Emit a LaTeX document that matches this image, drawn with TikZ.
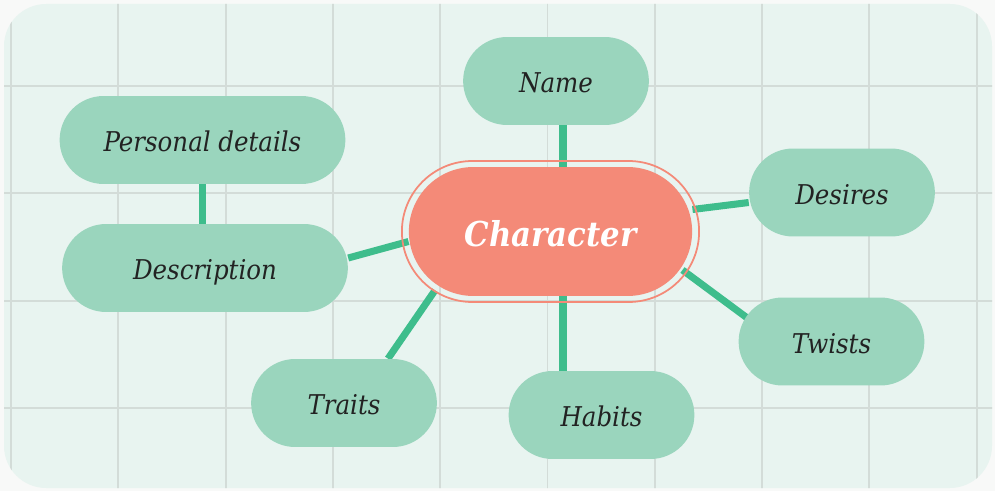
\documentclass[tikz,border=0pt]{standalone}
\usepackage{fontspec}
\setmainfont{DejaVu Serif Condensed}
\usepackage{xcolor}
\usetikzlibrary{shapes.misc,positioning}

\definecolor{paper}{HTML}{F8F9F8}
\definecolor{panel}{HTML}{E8F4F0}
\definecolor{gridline}{HTML}{D3DCD8}
\definecolor{leaf}{HTML}{9AD5BD}
\definecolor{link}{HTML}{3EBD8C}
\definecolor{core}{HTML}{F48A78}
\definecolor{ink}{HTML}{222222}

\pgfdeclarelayer{background}
\pgfsetlayers{background,main}

\tikzset{
  pill/.style={rounded rectangle, fill=leaf, text=ink, minimum width=3.95cm,
    minimum height=1.76cm, text height=13.6pt, text depth=0pt,
    font=\itshape\fontsize{15.5}{18}\selectfont},
  widepill/.style={pill, minimum width=5.95cm},
  corebox/.style={rounded rectangle, fill=core, text=white, minimum width=5.9cm,
    minimum height=2.58cm, text height=17.6pt, text depth=0pt,
    font=\bfseries\itshape\fontsize{19.5}{24}\selectfont},
  edge/.style={draw=link, line width=4pt}
}

\begin{document}
\begin{tikzpicture}[x=0.02cm, y=0.02cm]
\useasboundingbox (0,0) rectangle (995,491);

% topic nodes
\node[corebox] (chr) at (550.5,259.5) {Character};
\node[draw=core, line width=1pt, rounded rectangle, minimum width=6.18cm,
  minimum height=2.82cm] (ring) at (chr) {};
\node[pill] (nm) at (556,410) {Name};
\node[widepill] (pd) at (202.5,351) {Personal details};
\node[widepill] (desc) at (205,223) {Description};
\node[pill] (des) at (842,298.5) {Desires};
\node[pill] (tw) at (831.5,149.5) {Twists};
\node[pill] (tr) at (344,88) {Traits};
\node[pill] (hab) at (601.5,76) {Habits};

\begin{pgfonlayer}{background}
% panel and grid
\fill[paper] (0,0) rectangle (995,491);
\fill[panel] (4,3) [rounded corners=24] rectangle (992,487);
\begin{scope}
  \clip (4,3) [rounded corners=24] rectangle (992,487);
  \foreach \gx in {0,...,9}
    \draw[gridline, line width=1.1pt] (11+107.3*\gx,0) -- (11+107.3*\gx,491);
  \foreach \gy in {0,...,3}
    \draw[gridline, line width=1.1pt] (0,405-107.3*\gy) -- (995,405-107.3*\gy);
\end{scope}

% connectors
\draw[edge] ([shift={(12.5,0)}]chr.north) -- ([shift={(12.5,0)}]chr.north |- nm.south);
\draw[edge] ([shift={(12.5,0)}]chr.south) -- ([shift={(12.5,0)}]chr.south |- hab.north);
\draw[edge] (pd.south) -- (pd.south |- desc.north);
\draw[edge] ([shift={(0,10)}]desc.east) -- ([shift={(0,-10)}]chr.west);
\draw[edge] ([shift={(0,22)}]chr.east) -- ([shift={(0,-10)}]des.west);
\draw[edge] ([shift={(-10,-38.5)}]chr.east) -- ([shift={(9,23.5)}]tw.west);
\draw[edge] ([shift={(-115.5,6)}]chr.south) -- ([shift={(44,0)}]tr.north);
\end{pgfonlayer}
\end{tikzpicture}
\end{document}
